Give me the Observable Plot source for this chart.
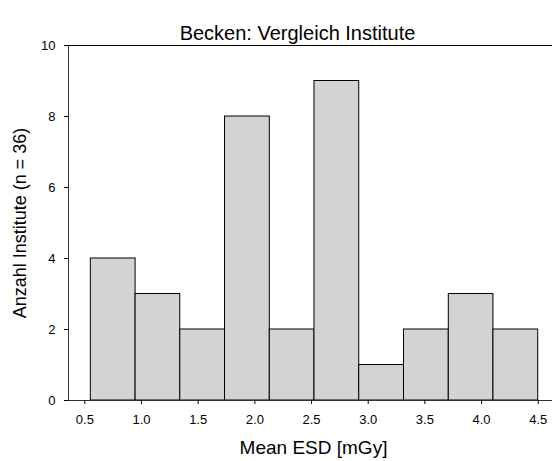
<!DOCTYPE html>
<html>
<head>
<meta charset="utf-8">
<script src="https://cdn.jsdelivr.net/npm/d3@7"></script>
<script src="https://cdn.jsdelivr.net/npm/@observablehq/plot@0.6"></script>
<style>
  html, body { margin: 0; padding: 0; background: #fff; }
</style>
</head>
<body>
<div id="chart"></div>
<script>
const title = "Becken: Vergleich Institute";
const xLabel = "Mean ESD [mGy]";
const yLabel = "Anzahl Institute (n = 36)";
const binEdges = [0.553, 0.948, 1.342, 1.737, 2.132, 2.526, 2.921, 3.316, 3.711, 4.105, 4.5];
const counts = [4, 3, 2, 8, 2, 9, 1, 2, 3, 2];
const xTicks = [0.5, 1.0, 1.5, 2.0, 2.5, 3.0, 3.5, 4.0, 4.5];
const yTicks = [0, 2, 4, 6, 8, 10];

const bins = counts.map((c, i) => ({x1: binEdges[i], x2: binEdges[i + 1], y: c}));

const chart = Plot.plot({
  width: 552,
  height: 461,
  marginLeft: 68,
  marginRight: 0,
  marginTop: 45,
  marginBottom: 61,
  style: {fontFamily: "'Liberation Sans', Arial, sans-serif", fontSize: "13px", color: "#000", background: "#fff"},
  x: {domain: [0.356, 4.626]},
  y: {domain: [0, 10]},
  marks: [
    Plot.rectY(bins, {x1: "x1", x2: "x2", y1: 0, y2: "y", fill: "#d3d3d3", stroke: "#000", strokeWidth: 1}),
    Plot.ruleY([0], {stroke: "#333", strokeWidth: 1}),
    Plot.ruleY([10], {stroke: "#000", strokeWidth: 1}),
    Plot.ruleX([0.356], {y1: 0, y2: 10, stroke: "#333", strokeWidth: 1}),
    Plot.axisX(xTicks, {tickSize: 4, tickPadding: 10, tickFormat: d3.format(".1f"), fontSize: 13, label: null}),
    Plot.axisY(yTicks, {tickSize: 4, tickPadding: 9, fontSize: 13, label: null}),
    Plot.text([title], {frameAnchor: "top", dx: -13, dy: -20, fontSize: 20, fill: "#000"}),
    Plot.text([xLabel], {frameAnchor: "bottom", dx: 3, dy: 53, fontSize: 19, fill: "#000"}),
    Plot.text([yLabel], {frameAnchor: "left", textAnchor: "middle", dx: -48, rotate: -90, fontSize: 18, fill: "#000"})
  ]
});
document.getElementById("chart").appendChild(chart);
</script>
</body>
</html>
